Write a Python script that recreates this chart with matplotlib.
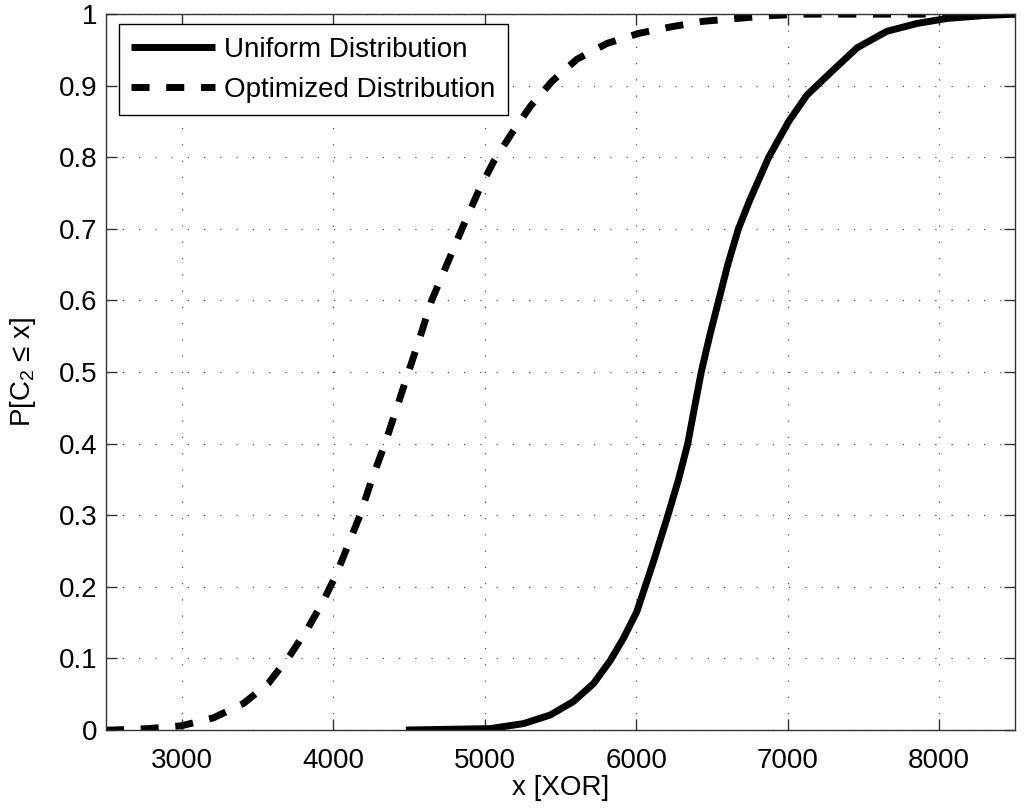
#!/usr/bin/env python3
"""CDF of C2 for uniform vs optimized distribution."""

import matplotlib

matplotlib.use("Agg")
import matplotlib.pyplot as plt

# values
optimized_x = [2500, 2549, 2780, 3000, 3209, 3407, 3571, 3714, 3835, 3934, 4022, 4177, 4255,
               4342, 4420, 4497, 4575, 4650, 4750, 4850, 4960, 5059, 5180, 5301, 5444, 5609,
               5807, 6015, 6224, 6444, 6666, 6886, 7100, 8500]
optimized_y = [0.0, 0.0, 0.002, 0.006, 0.017, 0.037, 0.065, 0.104, 0.143, 0.18, 0.218, 0.3, 0.35,
               0.4, 0.45, 0.5, 0.55, 0.6, 0.65, 0.7, 0.753, 0.794, 0.834, 0.871, 0.906, 0.937,
               0.959, 0.973, 0.982, 0.99, 0.994, 0.998, 1.0, 1.0]

uniform_x = [4480, 5037, 5257, 5433, 5587, 5719, 5829, 5916, 6004, 6070, 6114, 6210, 6280,
             6341, 6385, 6430, 6485, 6545, 6605, 6675, 6750, 6875, 7007, 7128, 7292, 7459,
             7655, 7855, 8053, 8295, 8500]
uniform_y = [0.0, 0.002, 0.009, 0.021, 0.04, 0.065, 0.097, 0.128, 0.165, 0.207, 0.235, 0.3, 0.35,
             0.4, 0.45, 0.5, 0.55, 0.6, 0.65, 0.7, 0.74, 0.8, 0.85, 0.887, 0.92, 0.953,
             0.976, 0.987, 0.994, 0.998, 1.0]

x_ticks = [3000, 4000, 5000, 6000, 7000, 8000]
y_ticks = [0, 0.1, 0.2, 0.3, 0.4, 0.5, 0.6, 0.7, 0.8, 0.9, 1]
y_tick_labels = ["0", "0.1", "0.2", "0.3", "0.4", "0.5", "0.6", "0.7", "0.8", "0.9", "1"]

plt.rcParams["font.family"] = ["Liberation Sans", "DejaVu Sans"]
plt.rcParams["mathtext.fontset"] = "custom"
plt.rcParams["mathtext.rm"] = "Liberation Sans"
plt.rcParams["mathtext.it"] = "Liberation Sans"

fig = plt.figure(figsize=(10.24, 8.08), dpi=100)
axis = fig.add_axes([0.1035, 0.0965, 0.8875, 0.886])

axis.plot(uniform_x, uniform_y, color="black", linewidth=5, solid_capstyle="butt",
          solid_joinstyle="round", label="Uniform Distribution")
axis.plot(optimized_x, optimized_y, color="black", linewidth=5, linestyle=(0, (2.6, 2.4)),
          dash_capstyle="butt", label="Optimized Distribution")

axis.set_xlim(2500, 8500)
axis.set_ylim(0, 1)
axis.set_xticks(x_ticks)
axis.set_xticklabels([str(v) for v in x_ticks])
axis.set_yticks(y_ticks)
axis.set_yticklabels(y_tick_labels)
axis.tick_params(direction="in", length=8, width=1, top=True, right=True,
                 labelsize=20, colors="#333333", labelcolor="black")
axis.tick_params(axis="x", pad=13)
axis.tick_params(axis="y", pad=6)
axis.grid(True, color="#555555", linestyle=(0, (1, 12)), linewidth=0.9)
for spine in axis.spines.values():
    spine.set_linewidth(1)
    spine.set_color("#333333")

axis.set_xlabel("x [XOR]", fontsize=20, labelpad=1)
axis.set_ylabel("P[C$_2$ \u2264 x]", fontsize=20, labelpad=15)

legend = axis.legend(loc="upper left", bbox_to_anchor=(0.0143, 0.986), borderaxespad=0,
                     fontsize=20, handlelength=3.0, handletextpad=0.33, borderpad=0.45,
                     labelspacing=0.5, fancybox=False, framealpha=1, edgecolor="black")
legend.get_frame().set_linewidth(1)

fig.savefig("out.png", dpi=100)
